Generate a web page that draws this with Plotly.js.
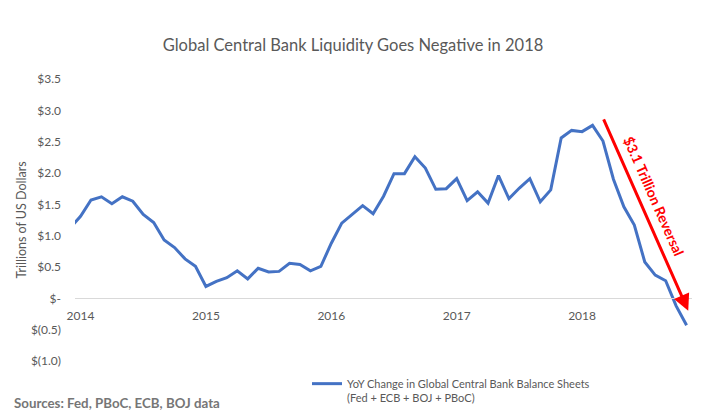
<!DOCTYPE html>
<html>
<head>
<meta charset="utf-8">
<script src="https://cdn.plot.ly/plotly-3.0.1.min.js"></script>
<style>
  html, body { margin: 0; padding: 0; background: #fff; }
  #chart { width: 706px; height: 418px; outline: 1px solid #d9d9d9; outline-offset: -1px; }
</style>
</head>
<body>
<div id="chart"></div>
<script>
// ---- data ----
const months = [
  '2013-12',
  '2014-01','2014-02','2014-03','2014-04','2014-05','2014-06','2014-07','2014-08','2014-09','2014-10','2014-11','2014-12',
  '2015-01','2015-02','2015-03','2015-04','2015-05','2015-06','2015-07','2015-08','2015-09','2015-10','2015-11','2015-12',
  '2016-01','2016-02','2016-03','2016-04','2016-05','2016-06','2016-07','2016-08','2016-09','2016-10','2016-11','2016-12',
  '2017-01','2017-02','2017-03','2017-04','2017-05','2017-06','2017-07','2017-08','2017-09','2017-10','2017-11','2017-12',
  '2018-01','2018-02','2018-03','2018-04','2018-05','2018-06','2018-07','2018-08','2018-09','2018-10','2018-11'
];
const yoyChange = [
  1.12,
  1.31, 1.57, 1.62, 1.51, 1.62, 1.55, 1.34, 1.21, 0.93, 0.81, 0.63, 0.51,
  0.19, 0.27, 0.33, 0.44, 0.31, 0.48, 0.42, 0.43, 0.56, 0.54, 0.44, 0.51,
  0.88, 1.20, 1.34, 1.48, 1.35, 1.63, 1.99, 1.99, 2.26, 2.08, 1.74, 1.75,
  1.91, 1.56, 1.70, 1.52, 1.96, 1.59, 1.76, 1.91, 1.54, 1.73, 2.56, 2.68,
  2.66, 2.76, 2.51, 1.90, 1.46, 1.17, 0.58, 0.37, 0.28, -0.12, -0.43
];
const yearTickVals = ['2014-01','2015-01','2016-01','2017-01','2018-01'];
const yearTickText = ['2014','2015','2016','2017','2018'];
const yTickVals = [-1, -0.5, 0, 0.5, 1, 1.5, 2, 2.5, 3, 3.5];
const yTickText = ['$(1.0)','$(0.5)','$-','$0.5','$1.0','$1.5','$2.0','$2.5','$3.0','$3.5'];
const seriesName = 'YoY Change in Global Central Bank Balance Sheets<br>(Fed + ECB + BOJ + PBoC)';
const arrowStart = {x: 51.0, y: 2.88};
const arrowEnd = {x: 59.16, y: -0.20};
const arrowLabel = {x: 55.88, y: 1.62, text: '$3.1 Trillion Reversal'};

const FONT = 'Lato, "Open Sans", sans-serif';
const GREY = '#595959';

const trace = {
  type: 'scatter', mode: 'lines',
  x: months, y: yoyChange,
  name: seriesName,
  line: {color: '#4472C4', width: 3},
  showlegend: true,
  cliponaxis: true
};

const layout = {
  width: 706, height: 418,
  margin: {l: 75, r: 14, t: 79, b: 57, autoexpand: false},
  paper_bgcolor: '#fff', plot_bgcolor: '#fff',
  font: {family: FONT, color: GREY, size: 12},
  title: {text: 'Global Central Bank Liquidity Goes Negative in 2018',
          x: 0.5, xanchor: 'center', y: 1 - 45/418, yanchor: 'middle',
          font: {family: FONT, size: 16.5, color: GREY}},
  xaxis: {
    type: 'category', categoryorder: 'array', categoryarray: months,
    range: [0.47, 59.52],
    anchor: 'free', position: 1/4.5,
    showline: true, linecolor: '#d9d9d9', linewidth: 1,
    showgrid: false, zeroline: false, ticks: '',
    tickvals: yearTickVals, ticktext: yearTickText,
    tickfont: {family: FONT, size: 12, color: GREY},
    ticklabelstandoff: 6
  },
  yaxis: {
    range: [-1, 3.5], domain: [0, 1],
    showgrid: false, zeroline: false, showline: false, ticks: '',
    tickvals: yTickVals, ticktext: yTickText,
    tickfont: {family: FONT, size: 12, color: GREY},
    ticklabelstandoff: 13,
    title: {text: 'Trillions of US Dollars', font: {family: FONT, size: 12.5, color: GREY}, standoff: 1}
  },
  showlegend: true,
  legend: {
    x: (307 - 75) / 617, xanchor: 'left',
    y: (361 - 370) / 282, yanchor: 'top',
    valign: 'top',
    font: {family: FONT, size: 11, color: GREY},
    bgcolor: 'rgba(0,0,0,0)', tracegroupgap: 0
  },
  annotations: [
    {xref: 'paper', yref: 'paper', x: (12 - 75) / 617, y: (361 - 403) / 282,
     xanchor: 'left', yanchor: 'middle', showarrow: false,
     text: '<b>Sources: Fed, PBoC, ECB, BOJ data</b>',
     font: {family: FONT, size: 13.3, color: '#767676'}},
    {xref: 'x', yref: 'y', axref: 'x', ayref: 'y',
     x: arrowEnd.x, y: arrowEnd.y, ax: arrowStart.x, ay: arrowStart.y,
     text: '', showarrow: true, arrowcolor: '#FF0000', arrowwidth: 3,
     arrowhead: 2, arrowsize: 1.1, standoff: 0, startstandoff: 0},
    {xref: 'x', yref: 'y', x: arrowLabel.x, y: arrowLabel.y,
     text: '<b>' + arrowLabel.text + '</b>', showarrow: false,
     textangle: 66.2, font: {family: FONT, size: 14, color: '#FF0000'}}
  ]
};

Plotly.newPlot('chart', [trace], layout, {displayModeBar: false, staticPlot: true});
</script>
</body>
</html>
